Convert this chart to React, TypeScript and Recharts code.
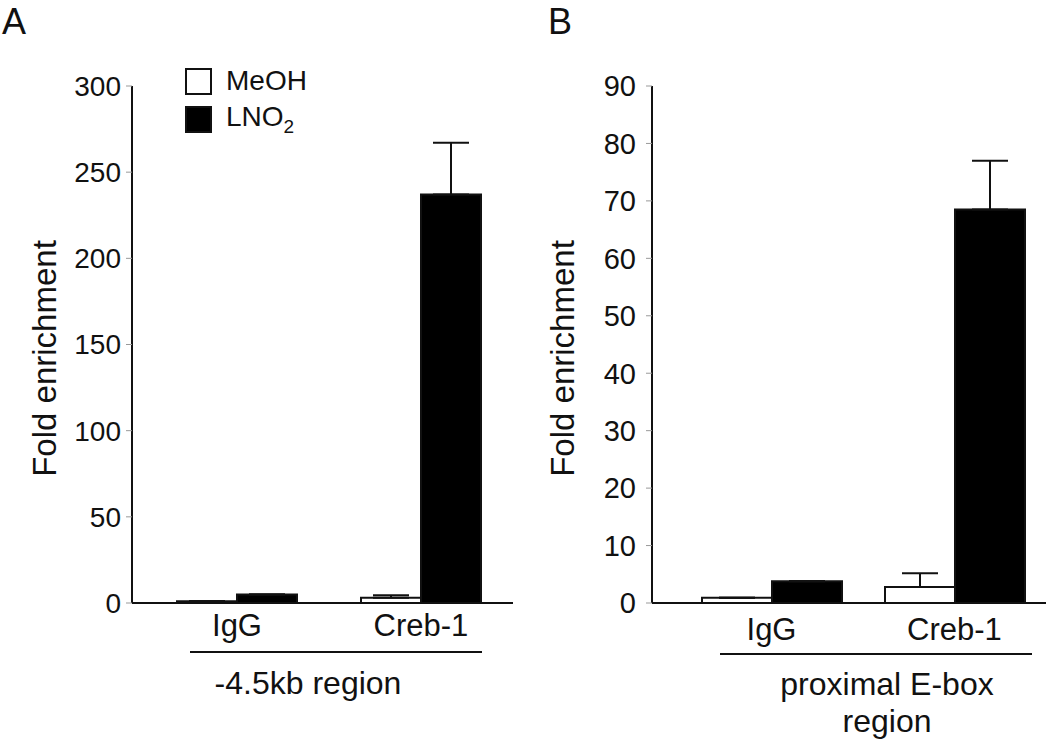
import React from 'react';
import { BarChart, Bar, XAxis, YAxis, ErrorBar } from 'recharts';

const categories = ['IgG', 'Creb-1'];
const seriesNames = ['MeOH', 'LNO2'];

// panel A, -4.5kb region
const meohA = [1, 3];
const meohErrA = [0, 1.5];
const lno2A = [5, 237];
const lno2ErrA = [0, 30];
const ticksA = [0, 50, 100, 150, 200, 250, 300];

// panel B, proximal E-box region
const meohB = [0.9, 2.8];
const meohErrB = [0, 2.4];
const lno2B = [3.8, 68.5];
const lno2ErrB = [0, 8.5];
const ticksB = [0, 10, 20, 30, 40, 50, 60, 70, 80, 90];

const FONT = '"Liberation Sans", Arial, sans-serif';

const buildRows = (meoh: number[], meohErr: number[], lno2: number[], lno2Err: number[]) =>
  categories.map((name, i) => ({
    name,
    meoh: meoh[i],
    meohErr: [0, meohErr[i]],
    lno2: lno2[i],
    lno2Err: [0, lno2Err[i]],
  }));

const dataA = buildRows(meohA, meohErrA, lno2A, lno2ErrA);
const dataB = buildRows(meohB, meohErrB, lno2B, lno2ErrB);

const yLabel = (dx: number, dy: number) => (props: any) => {
  const vb = props.viewBox;
  const cx = vb.x + dx;
  const cy = vb.y + vb.height / 2 + dy;
  return (
    <text
      x={cx}
      y={cy}
      transform={`rotate(-90, ${cx}, ${cy})`}
      textAnchor="middle"
      dominantBaseline="central"
      fontSize={33}
      fontFamily={FONT}
      fill="#111"
    >
      Fold enrichment
    </text>
  );
};

// underline under the categories + region name below it
const regionLabel = (lines: string[], lineY: number, from: number, to: number, textX: number, textY: number) => (props: any) => {
  const vb = props.viewBox;
  return (
    <g>
      <line x1={vb.x + from} x2={vb.x + to} y1={vb.y + lineY} y2={vb.y + lineY} stroke="#111" strokeWidth={2} />
      {lines.map((t, i) => (
        <text
          key={t}
          x={vb.x + textX}
          y={vb.y + textY + i * 37}
          textAnchor="middle"
          dominantBaseline="central"
          fontSize={32}
          fontFamily={FONT}
          fill="#111"
        >
          {t}
        </text>
      ))}
    </g>
  );
};

interface PanelProps {
  data: any[];
  ticks: number[];
  width: number;
  marginRight: number;
  yAxisWidth: number;
  padLeft: number;
  barSize: number;
  tickMargin: number;
  yTickMargin: number;
  yTickFont: number;
  yLabelX: number;
  region: (props: any) => React.ReactNode;
}

const Panel = ({ data, ticks, width, marginRight, yAxisWidth, padLeft, barSize, tickMargin, yTickMargin, yTickFont, yLabelX, region }: PanelProps) => (
  <BarChart
    width={width}
    height={743}
    data={data}
    margin={{ top: 86, right: marginRight, bottom: 0, left: 0 }}
    barGap={0}
    barSize={barSize}
  >
    <XAxis
      dataKey="name"
      tickLine={false}
      axisLine={{ stroke: '#111', strokeWidth: 2 }}
      padding={{ left: padLeft, right: 0 }}
      tickSize={0}
      tickMargin={tickMargin}
      tick={{ fontSize: 31, fontFamily: FONT, fill: '#111' }}
      label={region}
      height={140}
    />
    <YAxis
      width={yAxisWidth}
      domain={[ticks[0], ticks[ticks.length - 1]]}
      ticks={ticks}
      interval={0}
      tickSize={6}
      tickMargin={yTickMargin}
      tickLine={{ stroke: '#999', strokeWidth: 1 }}
      axisLine={{ stroke: '#111', strokeWidth: 2 }}
      tick={{ fontSize: yTickFont, fontFamily: FONT, fill: '#111' }}
      label={yLabel(yLabelX, 14)}
    />
    <Bar dataKey="meoh" fill="#fff" stroke="#111" strokeWidth={2} isAnimationActive={false}>
      <ErrorBar dataKey="meohErr" width={18} stroke="#111" strokeWidth={2} isAnimationActive={false} />
    </Bar>
    <Bar dataKey="lno2" fill="#000" stroke="#111" strokeWidth={2} isAnimationActive={false}>
      <ErrorBar dataKey="lno2Err" width={18} stroke="#111" strokeWidth={2} isAnimationActive={false} />
    </Bar>
  </BarChart>
);

const Legend = () => (
  <div style={{ position: 'absolute', left: 185, top: 62, fontFamily: FONT, fontSize: 28, color: '#111' }}>
    {seriesNames.map((s, i) => (
      <div key={s} style={{ display: 'flex', alignItems: 'center', height: 38 }}>
        <span
          style={{
            display: 'inline-block',
            width: 23,
            height: 23,
            border: '2px solid #111',
            background: i === 0 ? '#fff' : '#000',
            marginRight: 14,
          }}
        />
        {s === 'LNO2' ? (
          <span>
            LNO<sub style={{ fontSize: 19 }}>2</sub>
          </span>
        ) : (
          <span>{s}</span>
        )}
      </div>
    ))}
  </div>
);

const letterStyle: React.CSSProperties = {
  position: 'absolute',
  top: 4,
  fontFamily: FONT,
  fontSize: 36,
  lineHeight: '36px',
  color: '#111',
};

export default function App() {
  return (
    <div style={{ position: 'absolute', left: 0, top: 0, width: 1050, height: 743, background: '#fff', overflow: 'hidden' }}>
      <div style={{ position: 'absolute', left: 0, top: 0 }}>
        <Panel
          data={dataA}
          ticks={ticksA}
          width={520}
          marginRight={7}
          yAxisWidth={132}
          padLeft={13}
          barSize={60}
          tickMargin={11}
          yTickMargin={5}
          yTickFont={28}
          yLabelX={44}
          region={regionLabel(['-4.5kb region'], 49, 58, 350, 176, 80)}
        />
      </div>
      <div style={{ position: 'absolute', left: 520, top: 0 }}>
        <Panel
          data={dataB}
          ticks={ticksB}
          width={530}
          marginRight={4}
          yAxisWidth={132}
          padLeft={28}
          barSize={70}
          tickMargin={15}
          yTickMargin={10}
          yTickFont={29}
          yLabelX={42}
          region={regionLabel(['proximal E-box', 'region'], 51, 68, 380, 235, 81)}
        />
      </div>
      <Legend />
      <div style={{ ...letterStyle, left: 2 }}>A</div>
      <div style={{ ...letterStyle, left: 548 }}>B</div>
    </div>
  );
}
